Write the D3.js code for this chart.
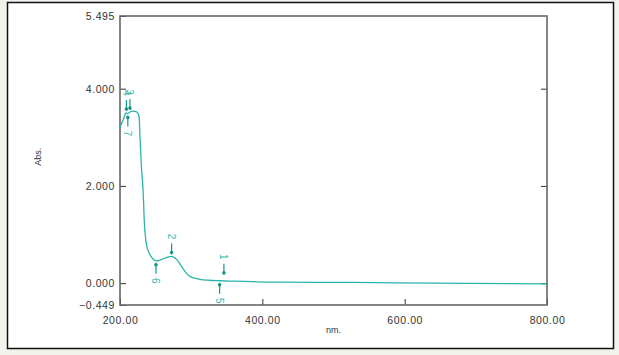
<!DOCTYPE html>
<html>
<head>
<meta charset="utf-8">
<script src="https://cdn.jsdelivr.net/npm/d3@7"></script>
<style>
  html, body { margin: 0; padding: 0; background: #f2f2ec; }
  svg { display: block; }
  text { font-family: "Liberation Sans", Arial, sans-serif; }
</style>
</head>
<body>
<div id="chart"></div>
<script>
// spectrum (nm, Abs.)
const wavelengths = [200, 201, 205, 208.4, 211, 214, 218, 222.5, 225, 227, 228, 230, 232, 233, 234, 237.5, 241, 244.5, 250.5, 255, 259, 266, 272.5, 276, 279.6, 284, 289, 298, 312, 325, 340, 360, 387, 425, 527, 641, 800];
const absorbance  = [3.20, 3.24, 3.38, 3.50, 3.49, 3.52, 3.54, 3.53, 3.50, 3.41, 3.02, 2.41, 2.00, 1.72, 1.31, 0.77, 0.62, 0.53, 0.46, 0.47, 0.49, 0.53, 0.55, 0.53, 0.49, 0.40, 0.29, 0.14, 0.08, 0.06, 0.05, 0.04, 0.03, 0.02, 0.015, 0.0, -0.015];

// peak / valley picks
const peakLabels = ["1", "2", "3", "4"];
const peakWl     = [346, 272.5, 214, 209];
const peakAbs    = [0.13, 0.55, 3.52, 3.50];
const valleyLabels = ["5", "6", "7"];
const valleyWl     = [340, 250.5, 211];
const valleyAbs    = [0.05, 0.46, 3.49];

const xTicks = [200, 400, 600, 800];
const yTicks = [5.495, 4, 2, 0, -0.449];

const width = 619, height = 355;
const margin = { top: 16, right: 72, bottom: 50, left: 120 };
const w = width - margin.left - margin.right;
const h = height - margin.top - margin.bottom;

const svg = d3.select("#chart").append("svg")
  .attr("width", width)
  .attr("height", height);

// outer frame
svg.append("rect")
  .attr("x", 7.5).attr("y", 2.5)
  .attr("width", 606).attr("height", 346)
  .attr("fill", "#fff")
  .attr("stroke", "#111")
  .attr("stroke-width", 1.5);

const g = svg.append("g")
  .attr("transform", `translate(${margin.left},${margin.top})`);

const x = d3.scaleLinear().domain([200, 800]).range([0, w]);
const y = d3.scaleLinear().domain([-0.449, 5.495]).range([h, 0]);

const axisColor = "#666";
const textColor = "#333";

// left axis, ticks inside
g.append("g")
  .call(d3.axisLeft(y).tickValues(yTicks).tickFormat(d3.format(".3f"))
    .tickSizeInner(-6).tickSizeOuter(0).tickPadding(5))
  .call(a => a.select(".domain").remove())
  .call(a => a.selectAll(".tick line").attr("stroke", "#333"))
  .call(a => a.selectAll(".tick text").attr("fill", textColor)
    .style("font-size", "10.5px").style("letter-spacing", "0.6px"));

// right axis ticks
g.append("g")
  .attr("transform", `translate(${w},0)`)
  .call(d3.axisRight(y).tickValues([4, 2, 0]).tickFormat("")
    .tickSizeInner(-6).tickSizeOuter(0))
  .call(a => a.select(".domain").remove())
  .call(a => a.selectAll(".tick line").attr("stroke", "#333"));

// bottom axis
g.append("g")
  .attr("transform", `translate(0,${h})`)
  .call(d3.axisBottom(x).tickValues(xTicks).tickFormat(d3.format(".2f"))
    .tickSizeInner(-6).tickSizeOuter(0).tickPadding(12))
  .call(a => a.select(".domain").remove())
  .call(a => a.selectAll(".tick line").attr("stroke", "#333"))
  .call(a => a.selectAll(".tick text").attr("fill", textColor)
    .style("font-size", "10.5px").style("letter-spacing", "0.6px"));

// plot box
g.append("rect")
  .attr("width", w).attr("height", h)
  .attr("fill", "none")
  .attr("stroke", axisColor)
  .attr("stroke-width", 1.6);

// axis titles
svg.append("text")
  .attr("transform", `translate(41,${margin.top + y(2.6)}) rotate(-90)`)
  .attr("text-anchor", "middle")
  .attr("fill", textColor)
  .style("font-size", "9px")
  .text("Abs.");

svg.append("text")
  .attr("x", margin.left + x(500))
  .attr("y", 333)
  .attr("text-anchor", "middle")
  .attr("fill", textColor)
  .style("font-size", "9px")
  .text("nm.");

// spectrum line
const lineColor = "#2bb3aa";
const data = wavelengths.map((d, i) => ({ wl: d, a: absorbance[i] }));
g.append("path")
  .datum(data)
  .attr("fill", "none")
  .attr("stroke", lineColor)
  .attr("stroke-width", 1.3)
  .attr("d", d3.line().x(d => x(d.wl)).y(d => y(d.a)).curve(d3.curveMonotoneX));

// pick markers
const markColor = "#14958c";
const labelColor = "#3ab8b0";

function drawMark(label, wl, a, dir) {
  // dir -1: peak (mark above), +1: valley (mark below)
  const cx = x(wl), cy = y(a);
  const y0 = cy + dir * 2, y1 = cy + dir * 13;
  g.append("line")
    .attr("x1", cx).attr("x2", cx)
    .attr("y1", y0).attr("y2", y1)
    .attr("stroke", markColor).attr("stroke-width", 1.2);
  g.append("circle")
    .attr("cx", cx).attr("cy", cy + dir * 4)
    .attr("r", 1.8).attr("fill", markColor);
  const ty = cy + dir * 20;
  g.append("text")
    .attr("transform", `translate(${cx},${ty}) rotate(90)`)
    .attr("text-anchor", "middle")
    .attr("dy", "0.35em")
    .attr("fill", labelColor)
    .style("font-size", "10px")
    .text(label);
}

peakLabels.forEach((l, i) => drawMark(l, peakWl[i], peakAbs[i], -1));
valleyLabels.forEach((l, i) => drawMark(l, valleyWl[i], valleyAbs[i], 1));
</script>
</body>
</html>
